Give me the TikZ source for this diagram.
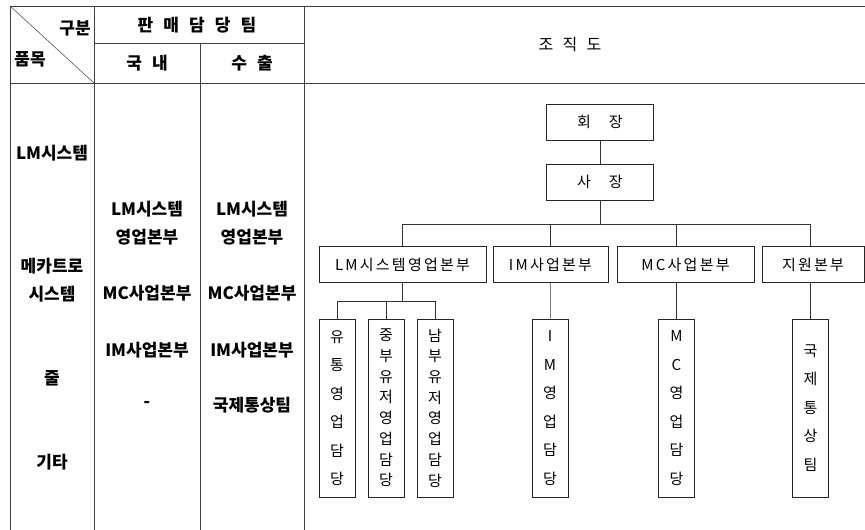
\documentclass[tikz,border=0pt]{standalone}
\usepackage{fontspec}
\newfontfamily\kr{Noto Sans CJK KR}
\newfontfamily\krhead[WordSpace=2.6]{Noto Sans CJK KR}
\newfontfamily\krsp[LetterSpace=15,WordSpace=3.2]{Noto Sans CJK KR}

\begin{document}
\begin{tikzpicture}[x=1pt, y=-1pt, line width=0.8pt,
    rule/.style={draw=black!75},
    cell/.style={font=\krhead\bfseries\fontsize{17}{28}\selectfont, inner sep=0pt, align=center},
    post/.style={draw=black!85, line width=0.6pt, minimum height=36, inner sep=0pt, font=\krsp\fontsize{15}{16}\selectfont},
    team/.style={draw=black!85, line width=0.6pt, minimum width=36, minimum height=178, inner sep=0pt, align=center, font=\kr\fontsize{15}{28.5}\selectfont},
    teamdense/.style={team, font=\kr\fontsize{15}{20.7}\selectfont},
    link/.style={draw=black!80, line width=0.6pt}]

    \useasboundingbox (0,0) rectangle (865,530);

    % table frame
    \draw [rule] (10,530) -- (10,6) -- (865,6);
    \draw [rule] (10,83) -- (865,83);
    \draw [rule] (94,43) -- (304,43);
    \draw [rule] (94,6) -- (94,530);
    \draw [rule] (200,43) -- (200,530);
    \draw [rule] (304,6) -- (304,530);
    \draw [rule, line width=0.5pt] (10,6) -- (94,83);

    % header
    \node [cell] (kind) at (75,28) {구분};
    \node [cell] (item) at (30,59) {품목};
    \node [cell] (sales) at (197,25) {판 매 담 당 팀};
    \node [cell] (home) at (147,63) {국 내};
    \node [cell] (export) at (252,63) {수 출};
    \node [cell, font=\krhead\fontsize{16}{18}\selectfont] (chart) at (570,45) {조 직 도};

    % products
    \node [cell] (lmsys) at (52,153) {LM시스템};
    \node [cell] (mecha) at (52,280) {메카트로\\시스템};
    \node [cell] (rope) at (52,378) {줄};
    \node [cell] (etc) at (52,462) {기타};

    % domestic
    \node [cell] (homelm) at (147,223) {LM시스템\\영업본부};
    \node [cell] (homemc) at (147,293) {MC사업본부};
    \node [cell] (homeim) at (147,350) {IM사업본부};
    \node [cell] (homeetc) at (147,405) {-};

    % export
    \node [cell] (explm) at (252,223) {LM시스템\\영업본부};
    \node [cell] (expmc) at (252,293) {MC사업본부};
    \node [cell] (expim) at (252,350) {IM사업본부};
    \node [cell] (expetc) at (252,405) {국제통상팀};

    % chart: top
    \node [post, minimum width=107] (chair) at (600,122) {회 장};
    \node [post, minimum width=107] (pres) at (600,182) {사 장};
    \draw [link] (chair) -- (pres);

    % chart: divisions
    \node [post, minimum width=167] (lm) at (402.5,264.5) {LM시스템영업본부};
    \node [post, minimum width=115] (im) at (550.5,264.5) {IM사업본부};
    \node [post, minimum width=137] (mc) at (685.5,264.5) {MC사업본부};
    \node [post, minimum width=102] (sup) at (813,264.5) {지원본부};

    \coordinate (bus) at (600,224);
    \draw [link] (pres) -- (bus);
    \draw [link] (lm.north) |- (bus);
    \draw [link] (im.north) |- (bus);

    % chart: teams
    \node [team] (dist) at (337,408) {유\\통\\영\\업\\담\\당};
    \node [teamdense] (mid) at (386,408) {중\\부\\유\\저\\영\\업\\담\\당};
    \node [teamdense] (south) at (435,408) {남\\부\\유\\저\\영\\업\\담\\당};
    \node [team] (imteam) at (550,408) {I\\M\\영\\업\\담\\당};
    \node [team] (mcteam) at (676.5,408) {M\\C\\영\\업\\담\\당};
    \node [team] (trade) at (810.5,408) {국\\제\\통\\상\\팀};

    \draw [link] (mc.north -| mcteam) |- (bus);
    \draw [link] (sup.north -| trade) |- (bus);

    \coordinate (lmbus) at (402.5,301);
    \draw [link] (lm) -- (lmbus);
    \foreach \t in {dist,mid,south}
        \draw [link] (\t.north) |- (lmbus);
    \draw [link] (im) -- (imteam);
    \draw [link] (mcteam.north) -- (mcteam.north |- mc.south);
    \draw [link] (trade.north) -- (trade.north |- sup.south);

\end{tikzpicture}
\end{document}
